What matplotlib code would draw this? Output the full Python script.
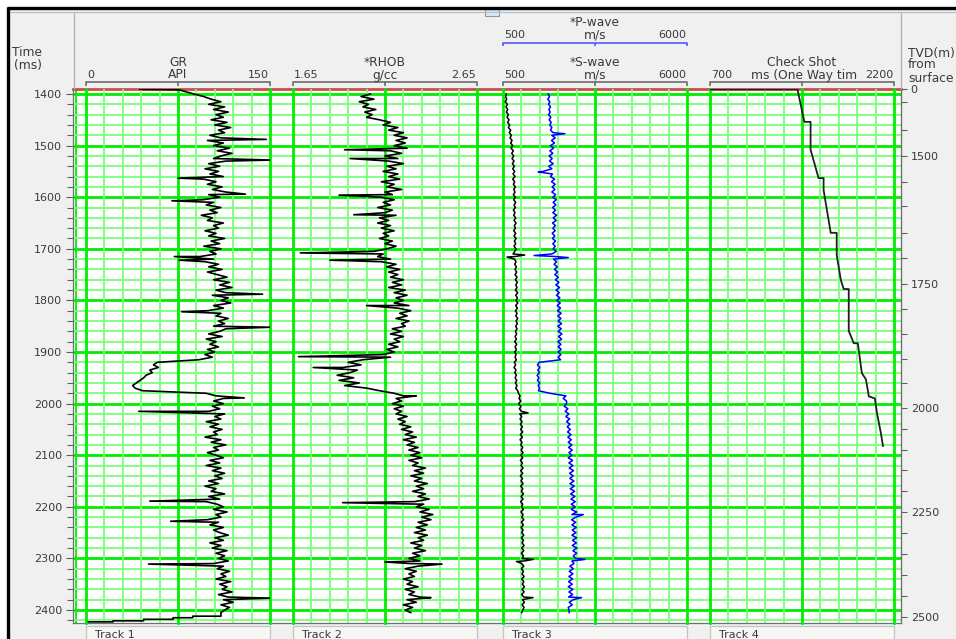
import numpy as np
import matplotlib
matplotlib.use("Agg")
import matplotlib.pyplot as plt
from matplotlib.lines import Line2D
from matplotlib.patches import Rectangle

# ---------------------------------------------------------------- data
# logs sampled every 5 ms of two-way time, 1400 .. 2400 ms (one row = 50 ms)
GR_API = [
    88, 96, 102, 110, 100, 113, 104, 116, 106, 112,
    102, 115, 105, 118, 108, 113, 101, 110, 99, 112,
    104, 117, 107, 119, 110, 104, 114, 100, 109, 97,
    108, 101, 112, 96, 106, 99, 111, 103, 114, 100,
    109, 95, 104, 98, 110, 101, 107, 94, 103, 99,
    112, 104, 108, 97, 106, 100, 113, 102, 109, 96,
    110, 101, 106, 93, 104, 97, 108, 100, 111, 99,
    107, 115, 104, 117, 109, 119, 106, 114, 103, 116,
    110, 118, 104, 112, 99, 110, 106, 116, 108, 113,
    104, 114, 109, 100, 111, 98, 106, 101, 108, 99,
    105, 97, 103, 92, 58, 55, 59, 52, 54, 49,
    47, 44, 41, 38, 40, 46, 98, 106, 112, 104,
    112, 103, 109, 100, 113, 105, 110, 98, 108, 101,
    111, 104, 107, 97, 110, 102, 114, 104, 108, 99,
    106, 112, 101, 109, 98, 110, 103, 113, 105, 111,
    100, 108, 97, 106, 102, 113, 100, 109, 98, 107,
    112, 104, 115, 106, 110, 99, 108, 101, 112, 104,
    109, 116, 105, 112, 101, 110, 103, 115, 106, 113,
    108, 116, 104, 112, 107, 117, 110, 114, 106, 118,
    109, 115, 111, 119, 108, 116, 112, 120, 110, 117,
    113,
]
GR_HEAD_T = [1391, 1392]
GR_HEAD_V = [44, 76]
GR_TAIL_T = [2405, 2412, 2412, 2415, 2415, 2418, 2418, 2421, 2421, 2423, 2423]
GR_TAIL_V = [110, 110, 87, 87, 71, 71, 47, 47, 22, 22, 2]
GR_SPIKE_T = [1488, 1528, 1563, 1594, 1607, 1715, 1722, 1788, 1822, 1852,
              1989, 2015, 2189, 2228, 2311, 2377]
GR_SPIKE_V = [147, 151, 75, 130, 70, 72, 76, 144, 78, 151,
              129, 43, 52, 69, 51, 151]

RHOB_GCC = [
    2.07, 2.02, 2.09, 2.01, 2.06, 2.03, 2.10, 2.04, 2.08, 2.05,
    2.12, 2.18, 2.14, 2.22, 2.17, 2.25, 2.20, 2.27, 2.21, 2.26,
    2.20, 2.27, 2.18, 2.24, 2.15, 2.22, 2.17, 2.25, 2.16, 2.21,
    2.14, 2.22, 2.17, 2.23, 2.13, 2.20, 2.16, 2.24, 2.15, 2.19,
    2.13, 2.20, 2.14, 2.18, 2.11, 2.19, 2.15, 2.21, 2.12, 2.17,
    2.11, 2.18, 2.13, 2.20, 2.14, 2.17, 2.12, 2.19, 2.15, 2.21,
    2.16, 2.09, 2.14, 2.11, 2.18, 2.13, 2.21, 2.16, 2.23, 2.17,
    2.22, 2.18, 2.25, 2.19, 2.24, 2.17, 2.26, 2.20, 2.27, 2.21,
    2.25, 2.20, 2.28, 2.22, 2.29, 2.23, 2.27, 2.21, 2.28, 2.24,
    2.26, 2.19, 2.24, 2.18, 2.25, 2.20, 2.23, 2.17, 2.22, 2.16,
    2.20, 2.14, 2.18, 2.03, 1.95, 2.02, 1.92, 2.00, 1.96, 1.89,
    1.98, 1.90, 2.01, 1.93, 2.05, 2.12, 2.20, 2.25, 2.21, 2.24,
    2.19, 2.25, 2.20, 2.24, 2.21, 2.27, 2.22, 2.26, 2.23, 2.29,
    2.24, 2.30, 2.26, 2.32, 2.25, 2.31, 2.27, 2.33, 2.28, 2.34,
    2.29, 2.35, 2.28, 2.33, 2.30, 2.37, 2.31, 2.36, 2.29, 2.35,
    2.31, 2.38, 2.32, 2.36, 2.30, 2.37, 2.33, 2.39, 2.31, 2.36,
    2.32, 2.39, 2.34, 2.41, 2.35, 2.40, 2.33, 2.38, 2.32, 2.37,
    2.31, 2.38, 2.33, 2.36, 2.29, 2.35, 2.31, 2.37, 2.30, 2.34,
    2.28, 2.34, 2.29, 2.33, 2.26, 2.32, 2.28, 2.31, 2.25, 2.30,
    2.27, 2.33, 2.26, 2.31, 2.28, 2.34, 2.27, 2.32, 2.25, 2.30,
    2.26,
]
RHOB_TAIL_T = [2405]
RHOB_TAIL_V = [2.29]
RHOB_SPIKE_T = [1508, 1525, 1596, 1634, 1708, 1722, 1810, 1909, 1930, 1985,
                2192, 2307, 2311, 2376]
RHOB_SPIKE_V = [1.93, 1.96, 1.90, 1.98, 1.69, 1.85, 2.05, 1.68, 1.76, 2.32,
                1.92, 2.15, 2.46, 2.40]

S_WAVE = [
    600, 580, 610, 570, 630, 590, 640, 600, 660, 620,
    680, 640, 700, 660, 730, 690, 750, 710, 770, 730,
    790, 740, 810, 760, 820, 770, 830, 780, 840, 790,
    850, 800, 860, 790, 850, 810, 870, 820, 860, 810,
    870, 820, 880, 830, 870, 810, 860, 820, 880, 830,
    890, 840, 870, 820, 880, 830, 890, 840, 880, 830,
    890, 850, 800, 860, 840, 890, 850, 900, 860, 910,
    860, 920, 870, 930, 880, 920, 870, 940, 880, 930,
    890, 940, 880, 930, 870, 920, 880, 940, 890, 930,
    880, 920, 870, 910, 860, 900, 850, 910, 860, 900,
    850, 890, 860, 900, 840, 880, 830, 890, 850, 900,
    860, 910, 870, 920, 880, 940, 960, 1010, 980, 1030,
    970, 1040, 990, 1050, 1000, 1060, 1010, 1070, 1020, 1080,
    1030, 1090, 1020, 1080, 1010, 1070, 1030, 1090, 1040, 1100,
    1030, 1090, 1020, 1080, 1040, 1100, 1030, 1090, 1020, 1080,
    1040, 1100, 1030, 1090, 1050, 1110, 1040, 1100, 1030, 1090,
    1050, 1110, 1040, 1100, 1060, 1120, 1050, 1110, 1040, 1100,
    1060, 1120, 1050, 1110, 1070, 1130, 1060, 1120, 1050, 1110,
    1070, 1130, 1060, 1120, 1050, 1110, 1070, 1130, 1060, 1120,
    1080, 1140, 1070, 1130, 1060, 1120, 1080, 1140, 1070, 1130,
    1090,
]
S_TAIL_T = [2405]
S_TAIL_V = [1060]
S_SPIKE_T = [1712, 1716, 2018, 2302, 2306, 2376]
S_SPIKE_V = [1150, 620, 1250, 1400, 900, 1400]

P_WAVE = [
    1850, 1890, 1840, 1900, 1860, 1920, 1870, 1910, 1860, 1930,
    1880, 1940, 1900, 1960, 1920, 2000, 1960, 2060, 1950, 2040,
    1920, 2010, 1900, 1990, 1880, 1970, 1890, 2000, 1870, 1960,
    1700, 1980, 1920, 2040, 1950, 2060, 1970, 2050, 1960, 2070,
    1990, 2090, 2000, 2080, 1980, 2070, 1990, 2100, 2000, 2090,
    1980, 2070, 1990, 2060, 1970, 2050, 1980, 2070, 1990, 2060,
    2000, 2090, 1960, 2070, 2010, 2100, 2030, 2120, 2040, 2130,
    2050, 2150, 2070, 2170, 2080, 2190, 2090, 2180, 2100, 2200,
    2110, 2210, 2120, 2220, 2130, 2240, 2140, 2230, 2150, 2250,
    2140, 2240, 2150, 2260, 2160, 2250, 2140, 2230, 2150, 2240,
    2140, 2230, 2150, 2220, 1580, 1530, 1600, 1540, 1590, 1520,
    1570, 1530, 1600, 1550, 1590, 1560, 1900, 2380, 2300, 2400,
    2400, 2330, 2440, 2360, 2470, 2380, 2490, 2400, 2500, 2420,
    2510, 2430, 2530, 2440, 2540, 2450, 2560, 2460, 2570, 2470,
    2560, 2450, 2580, 2470, 2590, 2480, 2610, 2490, 2600, 2500,
    2620, 2500, 2630, 2510, 2640, 2520, 2650, 2530, 2660, 2540,
    2660, 2540, 2700, 2560, 2680, 2550, 2670, 2560, 2690, 2570,
    2680, 2560, 2700, 2580, 2690, 2570, 2710, 2590, 2700, 2600,
    2680, 2560, 2620, 2500, 2600, 2480, 2590, 2470, 2580, 2460,
    2570, 2450, 2590, 2470, 2580, 2460, 2600, 2480, 2570, 2450,
    2470,
]
P_TAIL_T = [2405]
P_TAIL_V = [2480]
P_SPIKE_T = [1477, 1551, 1713, 1717, 2215, 2302, 2376]
P_SPIKE_V = [2350, 1550, 1430, 2450, 2900, 2950, 2850]

# check-shot one-way time (ms) against two-way time (ms)
CS_TIME = [1391, 1391, 1437, 1454, 1454, 1508, 1563, 1563, 1586, 1669, 1669,
           1712, 1760, 1778, 1778, 1859, 1883, 1883, 1941, 1953, 1986, 1990,
           2018, 2057, 2082]
CS_MS = [705, 1413, 1454, 1470, 1520, 1520, 1585, 1626, 1626, 1684, 1733,
         1733, 1766, 1790, 1831, 1831, 1872, 1905, 1938, 1971, 1995, 2044,
         2061, 2093, 2110]

# TVD axis (m) and the two-way time at which each label sits
TVD_LABELS = ["0", "1500", "1750", "2000", "2250", "2500"]
TVD_AT_TIME = [1391, 1520, 1768, 2008, 2210, 2414]
TVD_MINOR_AT_TIME = [1415, 1470, 1570, 1618, 1669, 1718, 1817, 1866, 1913,
                     1961, 2049, 2090, 2129, 2169, 2251, 2291, 2332, 2372]

TIME_LABELS = list(range(1400, 2401, 100))
T_TOP, T_BOTTOM = 1390.3, 2425.2

TRACK_NAMES = ["Track 1", "Track 2", "Track 3", "Track 4"]
TRACK_SCALES = [(0, 150), (1.65, 2.65), (500, 6000), (700, 2200)]

# ---------------------------------------------------------------- layout
W, H = 956, 639
TRACK_LEFT = [86, 293, 503, 710]
TRACK_W = 184
PLOT_L, PLOT_R, PLOT_T, PLOT_B = 73, 901, 89, 623

GRID_MAJOR = "#00ee00"
GRID_MINOR = "#78ff78"
TEXT = "#3a3a3a"
FS = 8
FS_WORD = 8.8

plt.rcParams["font.family"] = ["DejaVu Sans"]

fig = plt.figure(figsize=(W / 100, H / 100), dpi=100)
fig.patch.set_facecolor("#f0f0f0")


def fxy(x, y):
    return x / W, 1 - y / H


def fig_line(xs, ys, color, lw, **kw):
    fig.add_artist(Line2D([x / W for x in xs], [1 - y / H for y in ys],
                          color=color, lw=lw, solid_capstyle="butt", **kw))


def fig_text(x, y, s, ha="center", color=TEXT, size=FS, **kw):
    fx, fy = fxy(x, y)
    fig.text(fx, fy, s, ha=ha, va="center", color=color, fontsize=size, **kw)


def bracket(x0, x1, y, color):
    fig_line([x0, x0, x1, x1], [y + 3.5, y, y, y + 3.5], color, 1.1)
    xm = (x0 + x1) / 2
    fig_line([xm, xm], [y, y + 3.5], color, 1.1)


# window frame
fig.add_artist(Rectangle((0, 1 - 6.5 / H), 1, 6.5 / H, transform=fig.transFigure,
                         facecolor="white", edgecolor="none"))
fig.add_artist(Rectangle((0, 0), 7 / W, 1, transform=fig.transFigure,
                         facecolor="white", edgecolor="none"))
fig_line([7, W], [8, 8], "black", 2.4)
fig_line([8, 8], [7, H], "black", 2.4)
fig_line([10, W], [11.5, 11.5], "#b8c0cc", 0.9)
fig_line([PLOT_L + 1, PLOT_L + 1], [12, PLOT_T], "#b0b0b0", 0.9)
fig_line([PLOT_R, PLOT_R], [12, PLOT_T], "#b0b0b0", 0.9)
fig.add_artist(Rectangle(fxy(485, 16), 14 / W, 7 / H, transform=fig.transFigure,
                         facecolor="#d6ebfa", edgecolor="#8898a8", lw=0.8))

# ---------------------------------------------------------------- main time axis
ax = fig.add_axes([PLOT_L / W, 1 - PLOT_B / H, (PLOT_R - PLOT_L) / W,
                   (PLOT_B - PLOT_T) / H])
ax.set_facecolor("white")
ax.set_xlim(PLOT_L, PLOT_R)
ax.set_ylim(T_BOTTOM, T_TOP)
ax.set_xticks([])
ax.set_yticks(TIME_LABELS)
ax.set_yticks(np.arange(1400, 2421, 20), minor=True)
ax.tick_params(axis="y", which="major", length=5, width=0.8, color="#606060",
               labelsize=FS, labelcolor=TEXT, pad=3)
ax.tick_params(axis="y", which="minor", length=4, width=0.8, color="#606060")
ax.grid(axis="y", which="minor", color=GRID_MINOR, lw=1.3, zorder=0)
ax.grid(axis="y", which="major", color=GRID_MAJOR, lw=2.0, zorder=0)
ax.set_axisbelow(True)
for side in ("left", "right", "bottom"):
    ax.spines[side].set_color("#707070")
    ax.spines[side].set_linewidth(0.9)
ax.spines["top"].set_color("#c8504a")
ax.spines["top"].set_linewidth(2.0)
ax.axvline(PLOT_L + 3, color=GRID_MAJOR, lw=1.3, zorder=0)

# TVD axis on the right
axr = ax.twinx()
axr.set_ylim(T_BOTTOM, T_TOP)
axr.set_yticks(TVD_AT_TIME, TVD_LABELS)
axr.set_yticks(TVD_MINOR_AT_TIME, minor=True)
axr.tick_params(axis="y", which="major", length=4, width=0.8, color="#606060",
                labelsize=FS, labelcolor=TEXT, pad=3)
axr.tick_params(axis="y", which="minor", length=4, width=0.8, color="#606060")
for side in ("left", "top", "bottom"):
    axr.spines[side].set_visible(False)
axr.spines["right"].set_color("#707070")


# ---------------------------------------------------------------- tracks
def series(head_t, head_v, values, tail_t, tail_v, spike_t, spike_v):
    t = np.concatenate([np.arange(1400, 2401, 5), spike_t])
    v = np.concatenate([values, spike_v])
    order = np.argsort(t, kind="stable")
    t = np.concatenate([head_t, t[order], tail_t])
    v = np.concatenate([head_v, v[order], tail_v])
    return t, v


track_axes = []
for left, (lo, hi) in zip(TRACK_LEFT, TRACK_SCALES):
    tax = fig.add_axes([left / W, 1 - PLOT_B / H, TRACK_W / W,
                        (PLOT_B - PLOT_T) / H])
    tax.patch.set_alpha(0)
    tax.set_xlim(lo, hi)
    tax.set_ylim(T_BOTTOM, T_TOP)
    tax.set_xticks([lo, (lo + hi) / 2, hi])
    tax.set_xticks(np.linspace(lo, hi, 11), minor=True)
    tax.grid(axis="x", which="minor", color=GRID_MINOR, lw=1.3)
    tax.grid(axis="x", which="major", color=GRID_MAJOR, lw=2.0)
    for gl in tax.get_xgridlines():
        gl.set_clip_on(False)
    tax.tick_params(which="both", length=0, labelbottom=False, labelleft=False)
    tax.set_yticks([])
    for s in tax.spines.values():
        s.set_visible(False)
    track_axes.append(tax)

t, v = series(GR_HEAD_T, GR_HEAD_V, GR_API, GR_TAIL_T, GR_TAIL_V,
              GR_SPIKE_T, GR_SPIKE_V)
track_axes[0].plot(v, t, color="black", lw=1.2)

t, v = series([], [], RHOB_GCC, RHOB_TAIL_T, RHOB_TAIL_V,
              RHOB_SPIKE_T, RHOB_SPIKE_V)
track_axes[1].plot(v, t, color="black", lw=1.2)

t, v = series([], [], S_WAVE, S_TAIL_T, S_TAIL_V, S_SPIKE_T, S_SPIKE_V)
track_axes[2].plot(v, t, color="black", lw=1.1)
t, v = series([], [], P_WAVE, P_TAIL_T, P_TAIL_V, P_SPIKE_T, P_SPIKE_V)
track_axes[2].plot(v, t, color="#0000ff", lw=1.1)

track_axes[3].plot(CS_MS, CS_TIME, color="#202020", lw=1.3)

# ---------------------------------------------------------------- header
fig_text(27, 53, "Time", size=FS_WORD)
fig_text(28, 65, "(ms)", size=FS_WORD)

headers = [
    ("GR", "API", "0", "150"),
    ("*RHOB", "g/cc", "1.65", "2.65"),
    ("*S-wave", "m/s", "500", "6000"),
    ("Check Shot", "ms (One Way tim", "700", "2200"),
]
for left, (name, unit, lo, hi) in zip(TRACK_LEFT, headers):
    mid = left + TRACK_W / 2
    fig_text(mid, 62, name, size=FS_WORD)
    fig_text(mid + (2 if name == "Check Shot" else 0), 75, unit, size=FS_WORD)
    fig_text(left + 1, 75, lo, ha="left")
    fig_text(left + TRACK_W - 1, 75, hi, ha="right")
    bracket(left, left + TRACK_W, 82, "#606060")

# P-wave header sits above the S-wave one in track 3
left = TRACK_LEFT[2]
fig_text(left + TRACK_W / 2, 23, "*P-wave", size=FS_WORD)
fig_text(left + 1, 35, "500", ha="left")
fig_text(left + TRACK_W / 2, 35, "m/s", size=FS_WORD)
fig_text(left + TRACK_W - 1, 35, "6000", ha="right")
bracket(left, left + TRACK_W, 42.5, "#4a4aff")

fig_text(908, 53, "TVD(m)", ha="left", size=FS_WORD)
fig_text(908, 65, "from", ha="left", size=FS_WORD)
fig_text(908, 78, "surface", ha="left", size=FS_WORD)

# track name tabs along the bottom
for left, name in zip(TRACK_LEFT, TRACK_NAMES):
    fig.add_artist(Rectangle(fxy(left, 645), TRACK_W / W, 19 / H,
                             transform=fig.transFigure, facecolor="#f6f6f6",
                             edgecolor="#c4c4c4", lw=0.9))
    fig_text(left + 9, 634.5, name, ha="left")

fig.savefig("out.png", dpi=100, facecolor=fig.get_facecolor())
